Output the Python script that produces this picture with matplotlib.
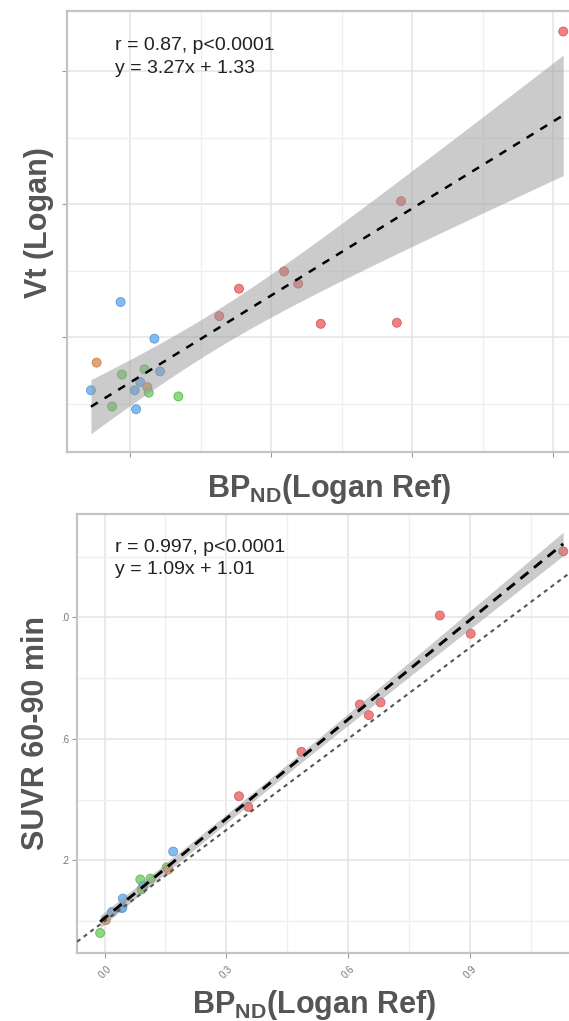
import numpy as np
import matplotlib
matplotlib.use('Agg')
import matplotlib.pyplot as plt
import matplotlib.transforms as mtransforms

plt.rcParams['font.family'] = ['Liberation Sans', 'DejaVu Sans']
plt.rcParams['mathtext.fontset'] = 'custom'
plt.rcParams['mathtext.rm'] = 'Liberation Sans'
plt.rcParams['mathtext.bf'] = 'Liberation Sans:bold'

# ---- data: top panel, Vt (Logan) vs BPND (Logan Ref)
top_group = ['blue', 'blue', 'orange', 'green', 'green', 'blue', 'blue', 'blue', 'blue',
             'orange', 'green', 'green', 'green', 'blue',
             'red', 'red', 'red', 'red', 'red', 'red', 'red', 'red']
top_bp = [-0.007, 0.017, -0.024, -0.006, 0.010, 0.021, -0.028, 0.003, 0.007,
          0.012, 0.013, 0.034, -0.013, 0.004,
          0.063, 0.077, 0.109, 0.119, 0.135, 0.189, 0.192, 0.307]
top_vt = [1.632, 1.494, 1.404, 1.359, 1.379, 1.371, 1.300, 1.300, 1.331,
          1.312, 1.291, 1.277, 1.239, 1.229,
          1.579, 1.682, 1.747, 1.701, 1.550, 1.554, 2.011, 2.649]
top_fit = (3.27, 1.33)
top_text = ['r = 0.87, p<0.0001', 'y = 3.27x + 1.33']

# ---- data: bottom panel, SUVR 60-90 min vs BPND (Logan Ref)
bot_group = ['red', 'red', 'red', 'red', 'red', 'red', 'red', 'red', 'red',
             'blue', 'green', 'orange', 'green', 'green', 'blue', 'green',
             'blue', 'blue', 'blue', 'blue', 'orange', 'green']
bot_bp = [1.130, 0.826, 0.902, 0.629, 0.680, 0.651, 0.485, 0.331, 0.354,
          0.169, 0.153, 0.157, 0.088, 0.113, 0.095, 0.091,
          0.045, 0.043, 0.044, 0.018, 0.003, -0.011]
bot_suvr = [2.217, 2.006, 1.946, 1.713, 1.720, 1.678, 1.557, 1.411, 1.376,
            1.229, 1.177, 1.170, 1.137, 1.140, 1.116, 1.104,
            1.074, 1.043, 1.045, 1.030, 1.003, 0.961]
bot_fit = (1.09, 1.01)
bot_text = ['r = 0.997, p<0.0001', 'y = 1.09x + 1.01']
bot_yticks = [1.2, 1.6, 2.0]
bot_yticklabels = ['.2', '.6', '.0']
bot_xticks = [0.0, 0.3, 0.6, 0.9]
bot_xticklabels = ['0.0', '0.3', '0.6', '0.9']

palette = {'red': '#F27272', 'orange': '#E09A66', 'green': '#7DD672', 'blue': '#72B4F2'}
edges = {'red': '#C85A5A', 'orange': '#B87E55', 'green': '#62AE5A', 'blue': '#5A92C8'}

W, H = 569, 1021
fig = plt.figure(figsize=(W / 100, H / 100), dpi=100)


def box(left, top, right, bottom):
    return [left / W, 1 - bottom / H, (right - left) / W, (bottom - top) / H]


def style(ax):
    ax.set_axisbelow(True)
    ax.grid(True, which='major', color='#e4e4e4', lw=1.1)
    ax.grid(True, which='minor', color='#efefef', lw=0.9)
    for s in ax.spines.values():
        s.set_color('#c4c4c4')
        s.set_linewidth(1.6)
    ax.tick_params(which='major', length=3.5, width=0.8, color='#999999',
                   labelcolor='#777777', labelsize=7, pad=2)
    ax.tick_params(which='minor', length=0)


def smooth(ax, x, y, fit, lw, dash):
    x = np.asarray(x)
    y = np.asarray(y)
    a, b = fit
    n = len(x)
    resid = y - (a * x + b)
    s = np.sqrt(np.sum(resid ** 2) / (n - 2))
    xs = np.linspace(x.min(), x.max(), 100)
    se = s * np.sqrt(1 / n + (xs - x.mean()) ** 2 / np.sum((x - x.mean()) ** 2))
    t = 2.086
    ys = a * xs + b
    ax.fill_between(xs, ys - t * se, ys + t * se, color='#999999', alpha=0.5,
                    lw=0, zorder=3)
    ax.plot(xs, ys, color='black', lw=lw, ls=(0, dash), zorder=5)


# ---- top panel
ax1 = fig.add_axes(box(67, 11, 590, 452))
ax1.set_xlim(-0.045, 0.326)
ax1.set_ylim(1.068, 2.726)
ax1.set_xticks([0.0, 0.1, 0.2, 0.3])
ax1.set_xticks([0.05, 0.15, 0.25], minor=True)
ax1.set_yticks([1.5, 2.0, 2.5])
ax1.set_yticks([1.25, 1.75, 2.25], minor=True)
style(ax1)
ax1.tick_params(labelbottom=False, labelleft=False)
ax1.scatter(top_bp, top_vt, s=42, c=[palette[g] for g in top_group],
            edgecolors=[edges[g] for g in top_group], linewidths=0.6,
            alpha=0.9, zorder=2)
smooth(ax1, top_bp, top_vt, top_fit, 1.8, (3.2, 3.2))

# ---- bottom panel
ax2 = fig.add_axes(box(77, 514, 590, 953))
ax2.set_xlim(-0.068, 1.196)
ax2.set_ylim(0.895, 2.340)
ax2.set_xticks(bot_xticks)
ax2.set_xticks([0.15, 0.45, 0.75, 1.05], minor=True)
ax2.set_yticks(bot_yticks)
ax2.set_yticks([1.0, 1.4, 1.8, 2.2], minor=True)
style(ax2)
ax2.set_yticklabels(bot_yticklabels)
ax2.set_xticklabels(bot_xticklabels, rotation=45, ha='right', va='center',
                    rotation_mode='anchor')
off = mtransforms.ScaledTranslation(5 / 100, -7 / 100, fig.dpi_scale_trans)
for lab in ax2.get_xticklabels():
    lab.set_transform(lab.get_transform() + off)
ax2.scatter(bot_bp, bot_suvr, s=42, c=[palette[g] for g in bot_group],
            edgecolors=[edges[g] for g in bot_group], linewidths=0.6,
            alpha=0.9, zorder=2)
xl = np.array(ax2.get_xlim())
ax2.plot(xl, xl + 1, color='#555555', lw=1.5, ls=(0, (2, 2)), zorder=4)
ax2.set_xlim(xl)
smooth(ax2, bot_bp, bot_suvr, bot_fit, 2.1, (3.5, 2.5))

# ---- annotations and axis titles
txt_kw = dict(fontsize=14, color='#222222', va='center', ha='left')
fig.text(115 / W, 1 - 45 / H, top_text[0], **txt_kw)
fig.text(115 / W, 1 - 68 / H, top_text[1], **txt_kw)
fig.text(115 / W, 1 - 547 / H, bot_text[0], **txt_kw)
fig.text(115 / W, 1 - 570 / H, bot_text[1], **txt_kw)

lab_kw = dict(fontsize=22, fontweight='bold', color='#555555')
xlab = r'BP$_{\mathbf{ND}}$(Logan Ref)'
fig.text(329 / W, 1 - 497 / H, xlab, ha='center', va='baseline', **lab_kw)
fig.text(314 / W, 1 - 1013 / H, xlab, ha='center', va='baseline', **lab_kw)
fig.text(39 / W, 1 - 223 / H, 'Vt (Logan)', rotation=90, ha='center',
         va='center', **lab_kw)
fig.text(36 / W, 1 - 733 / H, 'SUVR 60-90 min', rotation=90, ha='center',
         va='center', **lab_kw)

fig.savefig('out.png', dpi=100)
